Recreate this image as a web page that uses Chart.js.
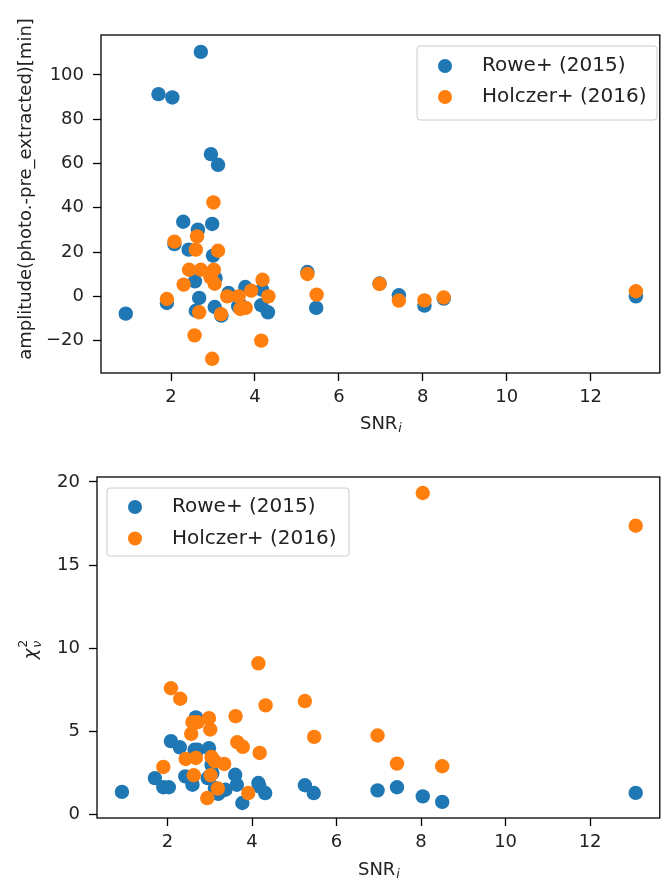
<!DOCTYPE html>
<html>
<head>
<meta charset="utf-8">
<script src="https://cdn.jsdelivr.net/npm/chart.js@4"></script>
<style>
  body { margin: 0; background: #fff; }
  .box { position: absolute; left: 0; width: 667px; }
</style>
</head>
<body>
<div class="box" style="top:0;height:440px"><canvas id="amp-chart"></canvas></div>
<div class="box" style="top:440px;height:441px"><canvas id="chi-chart"></canvas></div>
<script>
// Rowe+ (2015)
const snrRowe = [0.92, 1.70, 1.90, 2.03, 2.08, 2.29, 2.42, 2.57, 2.59, 2.64, 2.67, 2.71, 2.95, 2.98, 3.00, 3.04,
  3.06, 3.12, 3.20, 3.37, 3.60, 3.64, 3.77, 4.15, 4.17, 4.31, 5.25, 5.46, 6.97, 7.43, 8.04, 8.50, 13.08]
const ampRowe = [-7.8, 91.3, -3.0, 89.8, 23.6, 33.7, 21.1, 6.8, -6.5, 30.1, -0.7, 110.4, 64.2, 32.7, 18.4, -4.8,
  8.3, 59.4, -8.7, 1.5, -4.5, -3.5, 4.2, -4.0, 3.0, -7.2, 11.0, -5.2, 5.8, 0.5, -4.2, -1.0, 0.0]
const chiRowe = [1.37, 2.2, 1.65, 1.65, 4.42, 4.05, 2.3, 2.1, 1.8, 3.9, 5.85, 3.9, 2.2, 4.0, 2.3, 3.0,
  2.5, 1.6, 1.25, 1.5, 2.4, 1.8, 0.7, 1.9, 1.7, 1.3, 1.77, 1.3, 1.46, 1.65, 1.1, 0.77, 1.31]

// Holczer+ (2016)
const snrHolczer = [1.90, 2.08, 2.30, 2.43, 2.56, 2.59, 2.62, 2.67, 2.71, 2.94, 2.98, 3.01, 3.02, 3.04, 3.12, 3.19,
  3.34, 3.61, 3.65, 3.78, 3.91, 4.15, 4.18, 4.32, 5.25, 5.47, 6.97, 7.43, 8.04, 8.50, 13.08]
const ampHolczer = [-1.2, 24.7, 5.3, 12.0, -17.6, 21.1, 27.1, -7.2, 12.0, 8.6, -28.2, 42.4, 12.0, 5.7, 20.6, -8.0,
  0.0, 0.0, -5.7, -5.2, 2.6, -20.0, 7.5, 0.0, 10.1, 0.8, 5.6, -1.9, -1.8, -0.5, 2.3]
const chiHolczer = [2.87, 7.6, 6.97, 3.35, 4.86, 5.56, 2.37, 3.41, 5.56, 1.0, 5.8, 5.12, 2.37, 3.47, 3.21, 1.57,
  3.05, 5.92, 4.36, 4.08, 1.3, 9.1, 3.71, 6.57, 6.83, 4.68, 4.76, 3.07, 19.34, 2.91, 17.37]

const snrTicks = [2, 4, 6, 8, 10, 12]
const ampTicks = [-20, 0, 20, 40, 60, 80, 100]
const chiTicks = [0, 5, 10, 15, 20]
const seriesNames = ["Rowe+ (2015)", "Holczer+ (2016)"]

const BLUE = "#1f77b4"
const ORANGE = "#ff7f0e"
const FONT = "'DejaVu Sans', sans-serif"
const FS = 18      // ticks and axis titles
const LFS = 20     // legend
const SUB = 12.6   // sub/superscripts

function pts(xs, ys) {
  let out = []
  for (let i = 0; i < xs.length; i++) {
    out.push({x: xs[i], y: ys[i]})
  }
  return out
}

function fmt(v) {
  return v < 0 ? "\u2212" + Math.abs(v) : String(v)
}

// frame, legend and axis titles
const decor = {
  id: "decor",
  afterDraw(chart, args, o) {
    const ctx = chart.ctx
    const a = chart.chartArea
    ctx.save()
    ctx.strokeStyle = "#000"
    ctx.lineWidth = 1.3
    ctx.strokeRect(a.left, a.top, a.right - a.left, a.bottom - a.top)

    // legend
    const L = o.legend
    ctx.fillStyle = "rgba(255,255,255,0.8)"
    ctx.strokeStyle = "#cccccc"
    ctx.lineWidth = 1
    ctx.beginPath()
    ctx.roundRect(L.x, L.y, L.w, L.h, 3)
    ctx.fill()
    ctx.stroke()
    const cols = [BLUE, ORANGE]
    for (let i = 0; i < 2; i++) {
      const yy = L.y + L.first + i * L.step
      ctx.fillStyle = cols[i]
      ctx.beginPath()
      ctx.arc(L.x + 28, yy, 7, 0, Math.PI * 2)
      ctx.fill()
      ctx.fillStyle = "#222"
      ctx.font = LFS + "px " + FONT
      ctx.textAlign = "left"
      ctx.textBaseline = "middle"
      ctx.fillText(seriesNames[i], L.x + 65, yy)
    }

    // x title: SNR_i
    ctx.fillStyle = "#222"
    ctx.textBaseline = "middle"
    ctx.font = FS + "px " + FONT
    const w1 = ctx.measureText("SNR").width
    ctx.font = "italic " + SUB + "px " + FONT
    const w2 = ctx.measureText("i").width
    const cx = (a.left + a.right) / 2
    const ty = a.bottom + o.xTitleOffset
    ctx.font = FS + "px " + FONT
    ctx.textAlign = "left"
    ctx.fillText("SNR", cx - (w1 + w2) / 2, ty)
    ctx.font = "italic " + SUB + "px " + FONT
    ctx.fillText("i", cx - (w1 + w2) / 2 + w1 + 1, ty + 5)

    // y title
    ctx.translate(o.yTitle.x, o.yTitle.y)
    ctx.rotate(-Math.PI / 2)
    if (o.yTitle.kind === "amp") {
      ctx.font = FS + "px " + FONT
      ctx.textAlign = "center"
      ctx.fillText("amplitude(photo.-pre_extracted)[min]", 0, 0)
    } else {
      ctx.font = "italic " + FS + "px " + FONT
      ctx.textAlign = "left"
      const wc = ctx.measureText("\u03c7").width
      ctx.fillText("\u03c7", -wc / 2 - 4, 0)
      ctx.font = SUB + "px " + FONT
      ctx.fillText("2", wc / 2 - 3, -7)
      ctx.font = "italic " + SUB + "px " + FONT
      ctx.fillText("\u03bd", wc / 2 - 3, 7)
    }
    ctx.restore()
  }
}

function makeChart(id, rowe, holczer, yMin, yMax, yTicks, dims, decorOpts) {
  return new Chart(document.getElementById(id), {
    type: "scatter",
    data: {
      datasets: [
        { label: seriesNames[0], data: rowe, backgroundColor: BLUE, borderWidth: 0,
          pointRadius: 7.2, pointHoverRadius: 7.2, order: 1 },
        { label: seriesNames[1], data: holczer, backgroundColor: ORANGE, borderWidth: 0,
          pointRadius: 7.2, pointHoverRadius: 7.2, order: 0 }
      ]
    },
    options: {
      responsive: true,
      maintainAspectRatio: false,
      animation: false,
      layout: { padding: { top: dims.top, right: 1, left: 0, bottom: 0 } },
      plugins: { legend: { display: false }, tooltip: { enabled: false }, decor: decorOpts },
      scales: {
        x: {
          type: "linear", min: 0.33, max: 13.65,
          afterBuildTicks: s => { s.ticks = snrTicks.map(v => ({value: v})) },
          afterFit: s => { s.height = dims.xh },
          ticks: { font: { family: FONT, size: FS }, color: "#222", padding: 6, maxRotation: 0 },
          grid: { drawOnChartArea: false, tickLength: 8, tickColor: "#000", tickWidth: 1.3 },
          border: { display: false }
        },
        y: {
          type: "linear", min: yMin, max: yMax,
          afterBuildTicks: s => { s.ticks = yTicks.map(v => ({value: v})) },
          afterFit: s => { s.width = dims.yw },
          ticks: { font: { family: FONT, size: FS }, color: "#222", padding: 9, callback: v => fmt(v) },
          grid: { drawOnChartArea: false, tickLength: 8, tickColor: "#000", tickWidth: 1.3 },
          border: { display: false }
        }
      }
    },
    plugins: [decor]
  })
}

makeChart("amp-chart", pts(snrRowe, ampRowe), pts(snrHolczer, ampHolczer), -34.6, 118, ampTicks,
  { top: 35, xh: 67, yw: 101 },
  { legend: { x: 417, y: 46, w: 240, h: 74, first: 20, step: 31 }, xTitleOffset: 51,
    yTitle: { x: 26, y: 189, kind: "amp" } })

makeChart("chi-chart", pts(snrRowe, chiRowe), pts(snrHolczer, chiHolczer), -0.2, 20.3, chiTicks,
  { top: 37, xh: 63, yw: 97 },
  { legend: { x: 107, y: 48, w: 242, h: 68, first: 19, step: 31.5 }, xTitleOffset: 52,
    yTitle: { x: 31, y: 210, kind: "chi" } })
</script>
</body>
</html>
